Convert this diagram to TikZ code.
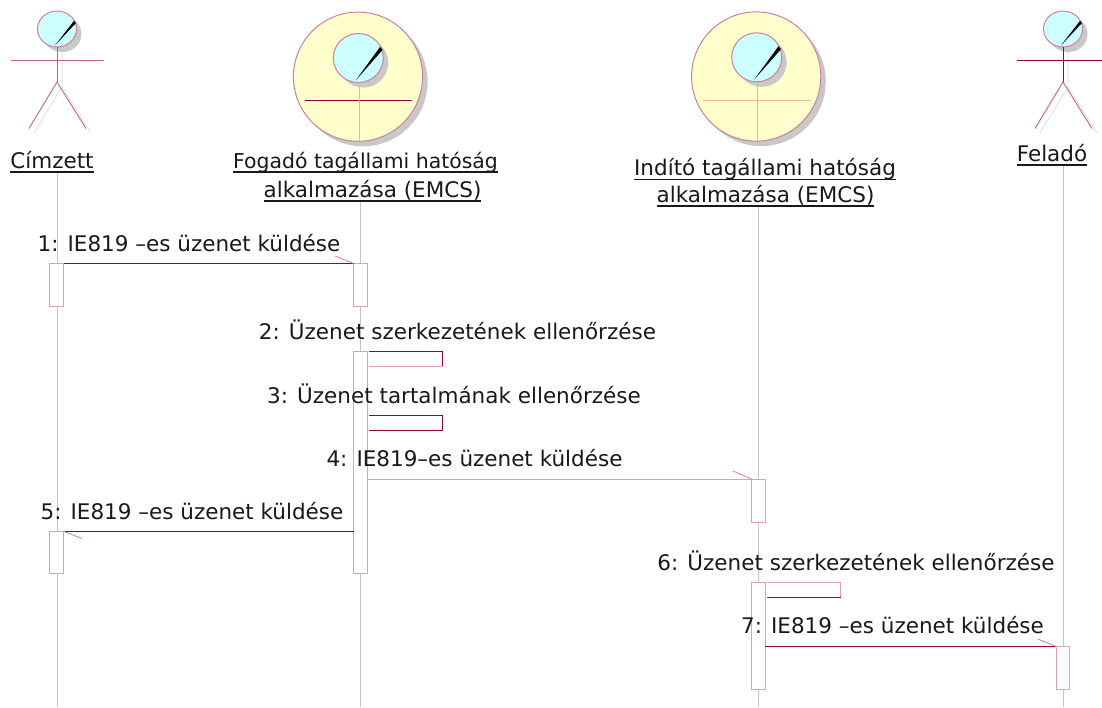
\documentclass[tikz,border=0pt]{standalone}
\usepackage{fontspec}
\setmainfont{DejaVu Sans}
\definecolor{dred}{HTML}{990033}
\definecolor{pinkl}{HTML}{DDA0B8}
\definecolor{headb}{HTML}{CCFFFF}
\definecolor{yell}{HTML}{FFFFCC}
\definecolor{shad}{HTML}{C8C8C8}
\definecolor{lifeg}{HTML}{C4C4C4}
\definecolor{faint}{HTML}{E4E4E4}
\definecolor{tan}{HTML}{E3B5A0}
\newcommand{\ulbl}[1]{\leavevmode\setbox0=\hbox{#1}\rlap{\vrule width\wd0 height -3pt depth 4.5pt}\box0}
\tikzset{
  x=1pt,y=-1pt,
  lbl/.style={font=\fontsize{21.5}{24}\selectfont,text=black!90,inner sep=0pt,anchor=base},
  namelbl/.style={lbl,align=center},
  life/.style={draw=lifeg,line width=1pt},
  actbox/.style={draw=pinkl,fill=white,line width=1pt,inner sep=0pt,outer sep=0pt,minimum width=13.5pt,anchor=north west},
  msgd/.style={draw=dred,line width=1pt},
  msgp/.style={draw=pinkl,line width=1pt},
  tipp/.style={draw=pinkl!80!dred,line width=.8pt},
}
\newcommand{\headshape}[4]{% cx cy rx ry
  \fill[shad] (#1+5,#2+5) ellipse [x radius=#3,y radius=#4];
  \filldraw[fill=headb,draw=pinkl!80!dred,line width=1pt] (#1,#2) ellipse [x radius=#3,y radius=#4];
  \draw[headb!35!white,line width=.7pt] (#1-#3*.62,#2-#4*.1) arc [start angle=190,end angle=100,x radius=#3*.65,y radius=#4*.65];
  \fill[black] (#1-#3*.11,#2+#4*.92) -- (#1+#3*.97,#2-#4*.33) -- (#1+#3*.87,#2-#4*.45) -- cycle;
}
\newcommand{\actorshape}[5]{% cx, arm left, arm right, arm colour, body colour
  \draw[faint,line width=1pt] (#1+5,48) -- (#1+5,87) (#1-23,133) -- (#1+5,87) -- (#1+34,133);
  \headshape{#1}{29}{19.5}{18}
  \draw[#4,line width=1pt] (#2,60.5) -- (#3,60.5);
  \draw[#5,line width=1pt] (#1,47) -- (#1,82);
  \draw[pinkl!70!dred,line width=1pt] (#1-28,128.5) -- (#1,82) -- (#1+29,128.5);
}
\newcommand{\boundshape}[6]{% cx cy headx heady hline colour, linex
  \fill[shad] (#1+5,#2+5) circle [radius=64.6];
  \filldraw[fill=yell,draw=pinkl!80!dred,line width=1pt] (#1,#2) circle [radius=64.6];
  \headshape{#3}{#4}{25}{24.5}
  \draw[#5,line width=1pt] (#6-54.5,100.5) -- (#6+52.5,100.5);
  \draw[tan,line width=1pt] (#6,82) -- (#6,140.5);
}
\begin{document}
\begin{tikzpicture}
\useasboundingbox (0,0) rectangle (1102,707);
\fill[white] (0,0) rectangle (1102,707);
% coordinates for lifeline feet
\coordinate (f1) at (57,707);
\coordinate (f2) at (360.5,707);
\coordinate (f3) at (758,707);
\coordinate (f4) at (1063.5,707);
% lifelines
\coordinate (t1) at (57,172);
\coordinate (t2) at (360.5,200);
\coordinate (t3) at (758,206);
\coordinate (t4) at (1063.5,165);
\draw[life] (t1) -- (f1);
\draw[life] (t2) -- (f2);
\draw[life] (t3) -- (f3);
\draw[life] (t4) -- (f4);
% figures
\actorshape{57}{11}{104}{pinkl!60!dred}{pinkl!60!dred}
\boundshape{358}{76.7}{358.3}{58}{dred}{359.5}
\boundshape{756.2}{76.5}{756.7}{57.3}{tan}{757.5}
\actorshape{1063}{1017}{1102}{dred}{dred}
% names
\node[namelbl] (n1) at (52,168) {\ulbl{Címzett}};
\node[lbl,font=\fontsize{20.4}{24}\selectfont] (n2) at (365.5,168) {\ulbl{Fogadó tagállami hatóság}};
\node[lbl] (n2b) at (372.5,197) {\ulbl{alkalmazása (EMCS)}};
\node[lbl] (n3) at (765,175.5) {\ulbl{Indító tagállami hatóság}};
\node[lbl] (n3b) at (765.5,202) {\ulbl{alkalmazása (EMCS)}};
\node[lbl] (n4) at (1052,161) {\ulbl{Feladó}};
% activations
\node[actbox,minimum height=42.5pt] (a1) at (49.5,263.5) {};
\node[actbox,minimum height=42.5pt] (a2) at (353.5,263.5) {};
\node[actbox,minimum height=222pt] (a3) at (353.5,351.5) {};
\node[actbox,minimum height=43pt] (a4) at (751.5,479) {};
\node[actbox,minimum height=42pt] (a5) at (49.5,531.5) {};
\node[actbox,minimum height=106.5pt] (a6) at (751.5,582.5) {};
\node[actbox,minimum height=42.5pt] (a7) at (1056,646.5) {};
% helper coordinates
\coordinate (s2a) at (369,351.5);
\coordinate (s2b) at (442.5,351.5);
\coordinate (s2c) at (442.5,366.5);
\coordinate (s2d) at (369,366.5);
\coordinate (s3a) at (369,415.5);
\coordinate (s3b) at (442.5,415.5);
\coordinate (s3c) at (442.5,430.5);
\coordinate (s3d) at (369,430.5);
\coordinate (s6a) at (767,582.5);
\coordinate (s6b) at (840.5,582.5);
\coordinate (s6c) at (840.5,597.5);
\coordinate (s6d) at (767,597.5);
\coordinate (h1) at (335,256);
\coordinate (h4) at (733,471);
\coordinate (h5) at (82,538.5);
\coordinate (h7) at (1038,639);
\coordinate (m1s) at (64,263.5);
\coordinate (m5e) at (64,531.5);
% messages
\draw[msgd] (m1s) -- (a2.north west);
\draw[tipp] (h1) -- (a2.north west);
\draw[msgd] (s2a) -- (s2b) -- (s2c);
\draw[msgp] (s2c) -- (s2d);
\draw[msgd] (s3a) -- (s3b) -- (s3c) -- (s3d);
\draw[msgp] (a3.north east |- a4.north west) -- (a4.north west);
\draw[tipp] (h4) -- (a4.north west);
\draw[msgd] (a3.west |- m5e) -- (m5e);
\draw[tipp] (h5) -- (m5e);
\draw[msgp] (s6a) -- (s6b) -- (s6c);
\draw[msgd] (s6c) -- (s6d);
\draw[msgd] (a6.east |- a7.north west) -- (a7.north west);
\draw[tipp] (h7) -- (a7.north west);
% labels
\node[lbl] (l1) at (189,251.5) {1: IE819 –es üzenet küldése};
\node[lbl] (l2) at (457.5,339) {2: Üzenet szerkezetének ellenőrzése};
\node[lbl] (l3) at (454,403) {3: Üzenet tartalmának ellenőrzése};
\node[lbl] (l4) at (474.5,466) {4: IE819–es üzenet küldése};
\node[lbl] (l5) at (192,519.5) {5: IE819 –es üzenet küldése};
\node[lbl] (l6) at (856,570) {6: Üzenet szerkezetének ellenőrzése};
\node[lbl] (l7) at (892.5,633.5) {7: IE819 –es üzenet küldése};
\end{tikzpicture}
\end{document}
